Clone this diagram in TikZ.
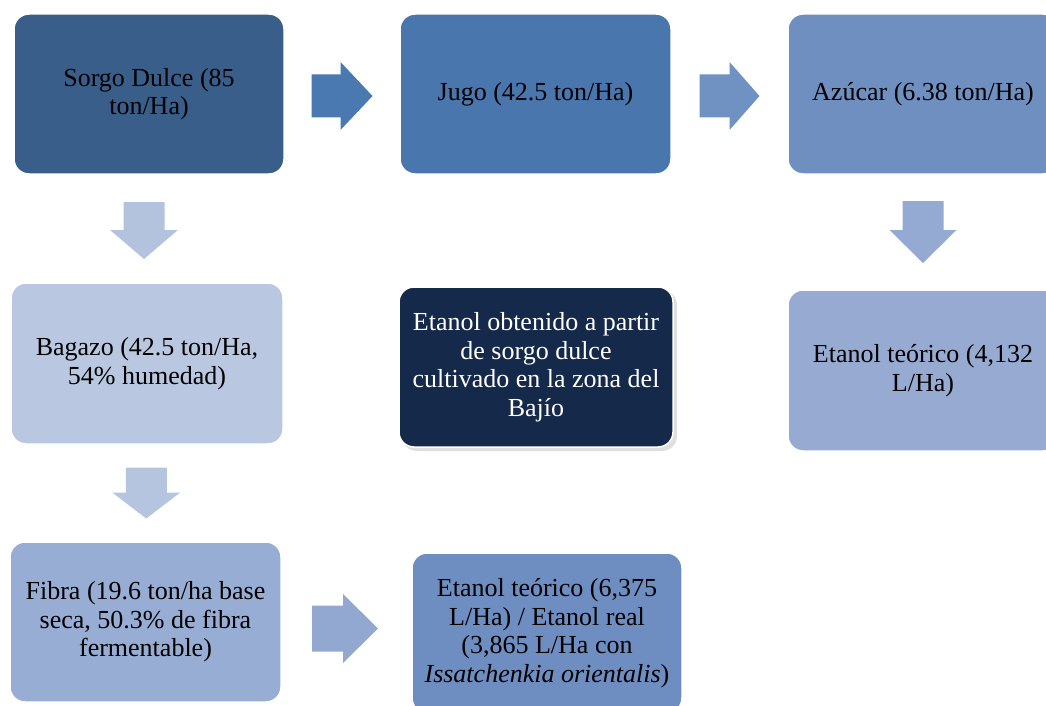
\documentclass[tikz,border=0pt]{standalone}
\usepackage{fontspec}
\setmainfont{Liberation Serif}
\usetikzlibrary{calc}
\definecolor{cSorgo}{RGB}{58,94,138}
\definecolor{cJugo}{RGB}{74,118,174}
\definecolor{cAzucar}{RGB}{111,143,192}
\definecolor{cBagazo}{RGB}{185,200,224}
\definecolor{cCentro}{RGB}{21,41,74}
\definecolor{cEtA}{RGB}{151,171,210}
\definecolor{cFibra}{RGB}{152,173,211}
\definecolor{cEtB}{RGB}{110,141,193}
\definecolor{aOne}{RGB}{74,121,178}
\definecolor{aTwo}{RGB}{112,146,195}
\definecolor{aDownA}{RGB}{179,195,222}
\definecolor{aDownB}{RGB}{149,170,210}
\definecolor{aDownC}{RGB}{182,197,223}
\definecolor{aFibra}{RGB}{147,168,208}
\tikzset{
  box/.style={rounded corners=15pt, align=center, inner sep=0pt,
    minimum width=270pt, minimum height=160pt, text=black,
    font=\fontsize{26}{28.5}\selectfont, draw=white, line width=1.5pt},
  pics/harrow/.style n args={4}{code={
    \fill (-#1/2,-#2) -- (#1/2-#4,-#2) -- (#1/2-#4,-#3) -- (#1/2,0)
      -- (#1/2-#4,#3) -- (#1/2-#4,#2) -- (-#1/2,#2) -- cycle;}},
  pics/varrow/.style n args={4}{code={
    \fill (-#2,-#1/2) -- (-#2,#1/2-#4) -- (-#3,#1/2-#4) -- (0,#1/2)
      -- (#3,#1/2-#4) -- (#2,#1/2-#4) -- (#2,-#1/2) -- cycle;}}
}
\begin{document}
\begin{tikzpicture}[x=1pt,y=-1pt]
\clip (0,0) rectangle (1046,706);
\fill[white] (0,0) rectangle (1046,706);

\node[box, fill=cSorgo] (sorgo) at (149,94) {Sorgo Dulce (85\\ton/Ha)};
\node[box, fill=cJugo, minimum width=271pt] (jugo) at (535.5,94) {Jugo (42.5 ton/Ha)};
\node[box, fill=cAzucar] (azucar) at (923,94) {Azúcar (6.38 ton/Ha)};
\node[box, fill=cBagazo, minimum width=272pt, minimum height=161pt] (bagazo) at (147,363.5) {Bagazo (42.5 ton/Ha,\\54\% humedad)};
\fill[gray!25, rounded corners=15pt] (402,290) rectangle (677,451);
\node[box, fill=cCentro, text=white, minimum width=274pt] (centro) at (536,367) {Etanol obtenido a partir\\de sorgo dulce\\cultivado en la zona del\\Bajío};
\node[box, fill=cEtA, minimum height=161pt] (etA) at (923,370.5) {Etanol teórico (4,132\\L/Ha)};
\node[box, fill=cFibra, minimum width=271pt] (fibra) at (145.5,622) {Fibra (19.6 ton/ha base\\seca, 50.3\% de fibra\\fermentable)};
\node[box, fill=cEtB] (etB) at (547,633) {Etanol teórico (6,375\\L/Ha) / Etanol real\\(3,865 L/Ha con\\\textit{Issatchenkia orientalis})};

\coordinate (m1) at ($(sorgo.east)!0.5!(jugo.west)$);
\coordinate (m2) at ($(jugo.east)!0.5!(azucar.west)$);
\coordinate (m3) at ($(sorgo.south)!0.5!(bagazo.north)$);
\coordinate (m4) at ($(azucar.south)!0.5!(etA.north)$);
\coordinate (m5) at ($(bagazo.south)!0.5!(fibra.north)$);
\coordinate (m6) at ($(fibra.east)!0.5!(etB.west)$);

\pic[fill=aOne] at ([yshift=-2pt]m1) {harrow={61}{21.5}{34}{32}};
\pic[fill=aTwo] at ([yshift=-2pt]m2) {harrow={60}{21.5}{34}{30}};
\pic[fill=aDownA] at ([xshift=-4pt,yshift=-2pt]m3) {varrow={57}{20.5}{34}{29}};
\pic[fill=aDownB] at (m4) {varrow={62}{20.5}{33.5}{33}};
\pic[fill=aDownC] at (m5) {varrow={51}{20.5}{34}{26}};
\pic[fill=aFibra] at ([xshift=-1.5pt,yshift=-1pt]m6) {harrow={66}{23}{34.5}{35}};
\end{tikzpicture}
\end{document}
